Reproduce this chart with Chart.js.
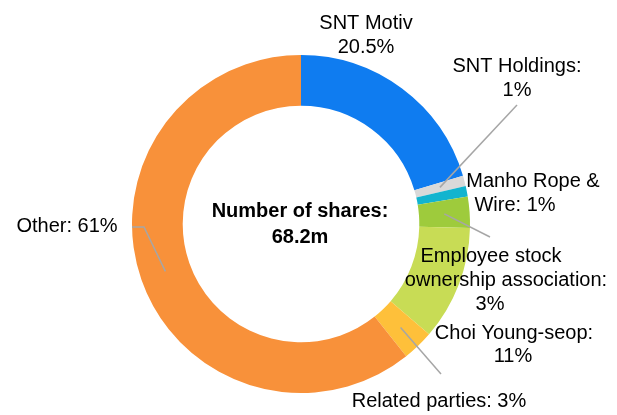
<!DOCTYPE html>
<html>
<head>
<meta charset="utf-8">
<script src="https://cdn.jsdelivr.net/npm/chart.js@4/dist/chart.umd.min.js"></script>
<style>
  html, body { margin: 0; padding: 0; background: #fff; }
  canvas { display: block; }
</style>
</head>
<body>
<canvas id="shareChart" width="617" height="415"></canvas>
<script>
// Shareholder split (% of shares)
const categories = ["SNT Motiv", "SNT Holdings", "Manho Rope & Wire",
    "Employee stock ownership association", "Choi Young-seop", "Related parties", "Other"];
const shares = [20.5, 1, 1, 3, 11, 3, 61];
const labelText = [
    ["SNT Motiv", "20.5%"],
    ["SNT Holdings:", "1%"],
    ["Manho Rope &", "Wire: 1%"],
    ["Employee stock", "ownership association:", "3%"],
    ["Choi Young-seop:", "11%"],
    ["Related parties: 3%"],
    ["Other: 61%"]
];
const centerText = ["Number of shares:", "68.2m"];

const colors = ["#0F7CF0", "#D9D9D9", "#12B4CF", "#9ECB3C", "#C8DC55", "#FEC03A", "#F8913A"];

// label placement, offsets from the doughnut centre (line centre x, baseline y)
const labelPos = [
    [[65, -195], [65, -171]],
    [[216, -152], [216, -128]],
    [[232, -37], [214, -13]],
    [[190, 38], [205, 62], [189, 86]],
    [[213, 115], [212, 138]],
    [[138, 183]],
    [[-234, 8]]
];
// outer end of leader lines (offsets from centre), null = no line
const leaderEnds = [
    null,
    [[216, -119]],
    null,
    [[189, 13]],
    null,
    [[140, 150]],
    [[-157, 3], [-169, 3]]
];

const labelPlugin = {
    id: "labelPlugin",
    afterDraw(chart) {
        const ctx = chart.ctx;
        const meta = chart.getDatasetMeta(0);
        const first = meta.data[0];
        const cx = first.x, cy = first.y;
        ctx.save();

        // leader lines
        ctx.strokeStyle = "#A6A6A6";
        ctx.lineWidth = 1.5;
        meta.data.forEach((arc, i) => {
            if (!leaderEnds[i]) return;
            const p = arc.getProps(["x", "y", "startAngle", "endAngle", "innerRadius", "outerRadius"], true);
            const mid = (p.startAngle + p.endAngle) / 2;
            const r = (p.innerRadius + p.outerRadius) / 2;
            ctx.beginPath();
            ctx.moveTo(p.x + r * Math.cos(mid), p.y + r * Math.sin(mid));
            leaderEnds[i].forEach(pt => ctx.lineTo(cx + pt[0], cy + pt[1]));
            ctx.stroke();
        });

        // slice labels
        ctx.fillStyle = "#000";
        ctx.font = "20px 'Liberation Sans', Arial, sans-serif";
        ctx.textAlign = "center";
        ctx.textBaseline = "alphabetic";
        labelText.forEach((lines, i) => {
            lines.forEach((t, j) => {
                const pos = labelPos[i][j];
                ctx.fillText(t, cx + pos[0], cy + pos[1]);
            });
        });

        // centre title
        ctx.font = "bold 20px 'Liberation Sans', Arial, sans-serif";
        ctx.fillText(centerText[0], cx - 1, cy - 7);
        ctx.fillText(centerText[1], cx - 1, cy + 19);
        ctx.restore();
    }
};

new Chart(document.getElementById("shareChart").getContext("2d"), {
    type: "doughnut",
    data: {
        labels: categories,
        datasets: [{
            data: shares,
            backgroundColor: colors,
            borderWidth: 0
        }]
    },
    options: {
        responsive: false,
        animation: false,
        cutout: "70%",
        layout: { padding: { left: 132, right: 147, top: 55, bottom: 22 } },
        plugins: {
            legend: { display: false },
            tooltip: { enabled: false }
        }
    },
    plugins: [labelPlugin]
});
</script>
</body>
</html>
